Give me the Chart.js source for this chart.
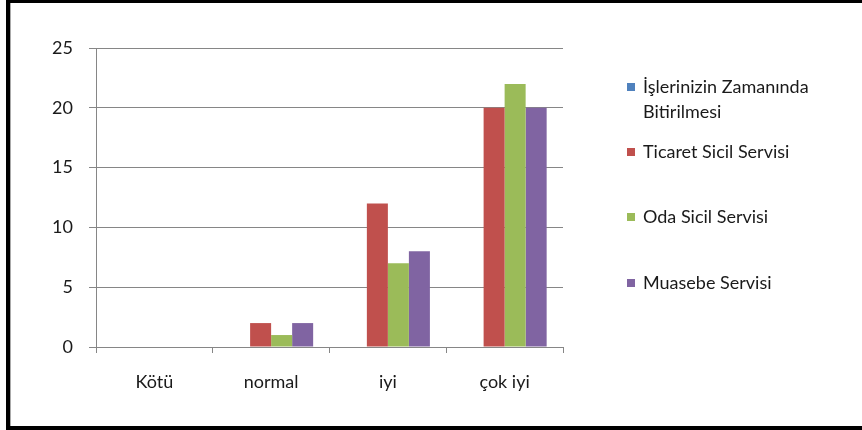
<!DOCTYPE html>
<html>
<head>
<meta charset="utf-8">
<script src="https://cdn.jsdelivr.net/npm/chart.js@4.4.1/dist/chart.umd.min.js"></script>
<style>
  html, body { margin: 0; padding: 0; background: #fff; }
  body { width: 862px; height: 430px; position: relative; overflow: hidden; font-family: Lato, "Open Sans", sans-serif; }
  #frame { position: absolute; left: 6px; top: 0; width: 870px; height: 423px;
           border-left: 4px solid #000; border-top: 3px solid #000; border-bottom: 4px solid #000;
           box-shadow: inset 1px 0 0 #aaa; box-sizing: content-box; }
  #wrap { position: absolute; left: 0; top: 0; width: 862px; height: 430px; }
  #legend { position: absolute; left: 627px; top: 0; }
  .item { position: absolute; left: 0; white-space: nowrap; color: #1a1a1a; font-size: 18px; line-height: 25px; }
  .sw { position: absolute; left: 0; width: 8px; height: 8px; }
  .txt { position: absolute; left: 16px; top: 0; }
</style>
</head>
<body>
<div id="frame"></div>
<div id="wrap"><canvas id="c" width="862" height="430"></canvas></div>
<div id="legend"></div>
<script>
const categories = ["Kötü", "normal", "iyi", "çok iyi"];
const seriesLabels = ["İşlerinizin Zamanında Bitirilmesi", "Ticaret Sicil Servisi", "Oda Sicil Servisi", "Muasebe Servisi"];
const legendLines = [["İşlerinizin Zamanında", "Bitirilmesi"], ["Ticaret Sicil Servisi"], ["Oda Sicil Servisi"], ["Muasebe Servisi"]];
const isleriniz = [0, 0, 0, 0];
const ticaret = [0, 2, 12, 20];
const oda = [0, 1, 7, 22];
const muasebe = [0, 2, 8, 20];
const yTicks = [0, 5, 10, 15, 20, 25];
const colors = ["#4F81BD", "#C0504D", "#9BBB59", "#8064A2"];
const legendTops = [74, 139, 204, 270];

const values = [isleriniz, ticaret, oda, muasebe];
const gridColor = "#868686";
const font = { family: "Lato, 'Open Sans', sans-serif", size: 18 };

new Chart(document.getElementById("c"), {
  type: "bar",
  data: {
    labels: categories,
    datasets: seriesLabels.map((l, i) => ({
      label: l, data: values[i], backgroundColor: colors[i], borderWidth: 0,
      categoryPercentage: 0.72, barPercentage: 1
    }))
  },
  options: {
    responsive: false, animation: false,
    layout: { padding: { left: 0, right: 299, top: 48, bottom: 0 } },
    plugins: { legend: { display: false }, tooltip: { enabled: false } },
    scales: {
      x: {
        grid: { display: true, drawOnChartArea: false, drawTicks: true, tickLength: 6, color: gridColor, offset: true },
        border: { display: true, color: gridColor },
        ticks: { color: "#1a1a1a", font: font, padding: 18 },
        afterFit: s => { s.height = 83; }
      },
      y: {
        min: 0, max: 25,
        afterBuildTicks: s => { s.ticks = yTicks.map(v => ({ value: v })); },
        grid: { color: gridColor, tickLength: 7, drawTicks: true },
        border: { display: true, color: gridColor },
        ticks: { color: "#1a1a1a", font: font, padding: 16 },
        afterFit: s => { s.width = 96; }
      }
    }
  }
});

const leg = document.getElementById("legend");
seriesLabels.forEach((l, i) => {
  const it = document.createElement("div");
  it.className = "item";
  it.style.top = legendTops[i] + "px";
  const sw = document.createElement("div");
  sw.className = "sw"; sw.style.background = colors[i]; sw.style.top = "9px";
  const t = document.createElement("div");
  t.className = "txt";
  t.innerHTML = legendLines[i].join("<br>");
  it.appendChild(sw); it.appendChild(t);
  leg.appendChild(it);
});
</script>
</body>
</html>
